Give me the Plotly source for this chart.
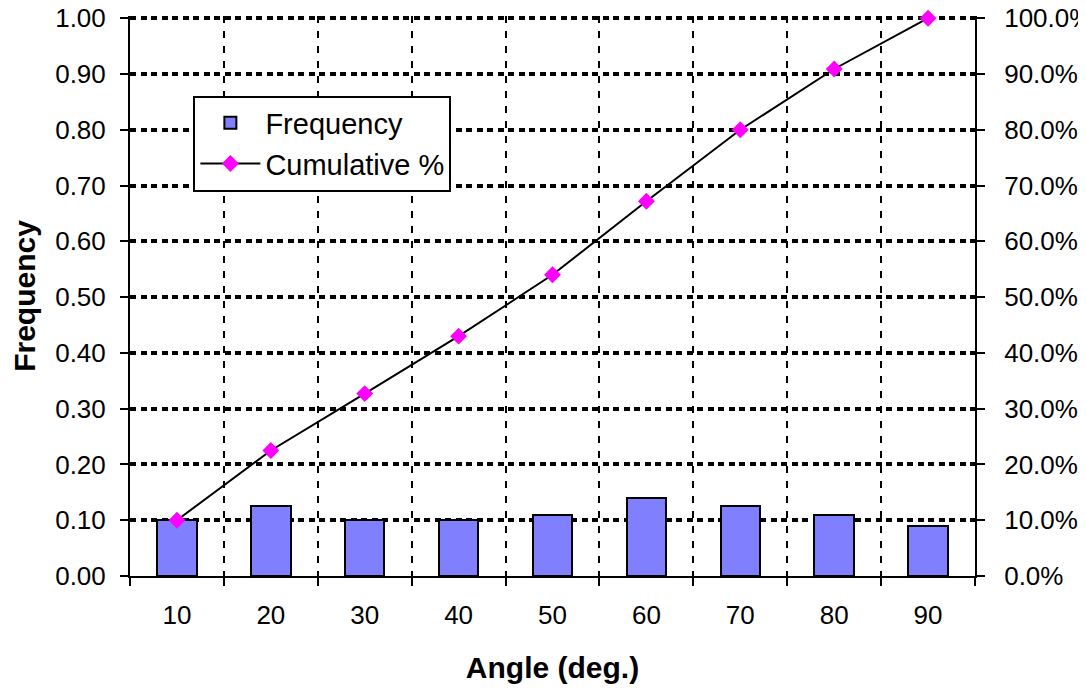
import plotly.graph_objects as go

angles = [10, 20, 30, 40, 50, 60, 70, 80, 90]
frequency = [0.10, 0.125, 0.10, 0.10, 0.11, 0.14, 0.125, 0.11, 0.09]
cumulative = [0.10, 0.225, 0.327, 0.43, 0.54, 0.672, 0.80, 0.909, 1.00]

FONT = "Liberation Sans, Arial, sans-serif"
YMAX = 1.004

fig = go.Figure()
fig.add_trace(go.Bar(
    x=angles, y=frequency, name="Frequency", width=4.2,
    marker=dict(color="#8080FF", line=dict(color="black", width=2)),
    yaxis="y",
))
fig.add_trace(go.Scatter(
    x=angles, y=cumulative, name="Cumulative %", mode="lines+markers",
    line=dict(color="black", width=2),
    marker=dict(symbol="diamond", color="#FF00FF", size=13),
    yaxis="y2", cliponaxis=False,
))

grid_h = dict(showgrid=True, gridcolor="black", gridwidth=3.5, griddash="6px,4.5px")

fig.update_layout(
    width=1078, height=684,
    margin=dict(l=122, r=111, t=8, b=116, autoexpand=False),
    paper_bgcolor="white", plot_bgcolor="white",
    font=dict(family=FONT, size=26, color="black"),
    showlegend=True,
    bargap=0,
    legend=dict(
        x=0.075, y=0.858, xanchor="left", yanchor="top",
        bgcolor="white", bordercolor="black", borderwidth=2,
        font=dict(size=29), tracegroupgap=6, itemwidth=60,
    ),
    xaxis=dict(
        range=[5, 95], tickmode="array", tickvals=angles,
        ticktext=[str(a) for a in angles], ticks="", showgrid=False,
        showline=True, linecolor="black", linewidth=2, zeroline=False,
        ticklabelstandoff=15, automargin=False, ticklabeloverflow="allow",
        minor=dict(tick0=5, dtick=10, ticks="outside", ticklen=8, tickwidth=2,
                   tickcolor="black", showgrid=True, gridcolor="black",
                   gridwidth=2, griddash="7px,8px"),
        title=dict(text="<b>Angle (deg.)</b>", font=dict(size=30), standoff=28),
    ),
    yaxis=dict(
        range=[0, YMAX], tickmode="linear", dtick=0.1, tick0=0, tickformat=".2f",
        showline=True, linecolor="black", linewidth=2, zeroline=False,
        ticks="outside", ticklen=8, tickwidth=2, tickcolor="black",
        ticklabelstandoff=9, automargin=False, ticklabeloverflow="allow",
        title=dict(text="<b>Frequency</b>", font=dict(size=30), standoff=15),
        **grid_h,
    ),
    yaxis2=dict(
        range=[0, YMAX], tickmode="linear", dtick=0.1, tick0=0, tickformat=".1%",
        overlaying="y", side="right", showgrid=False,
        showline=True, linecolor="black", linewidth=2, zeroline=False,
        ticks="outside", ticklen=8, tickwidth=2, tickcolor="black",
        ticklabelstandoff=14, automargin=False, ticklabeloverflow="allow",
    ),
)

fig.write_html("out.html")
